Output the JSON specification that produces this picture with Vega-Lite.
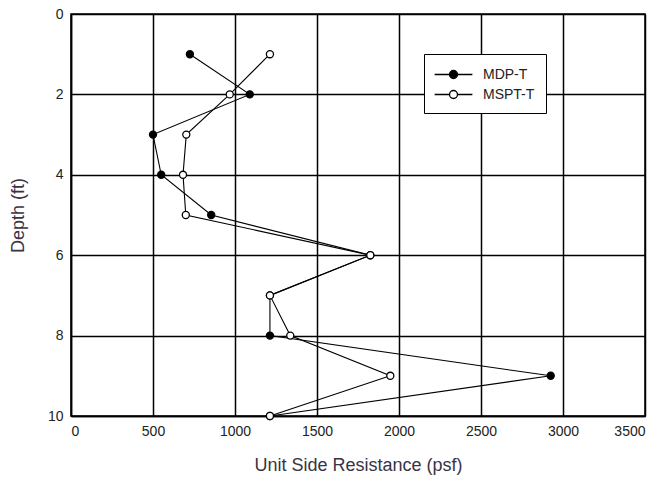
{
  "$schema": "https://vega.github.io/schema/vega-lite/v6.json",
  "width": 574,
  "height": 402,
  "autosize": "none",
  "padding": {"left": 71, "top": 14, "right": 16, "bottom": 66},
  "background": "white",
  "config": {
    "view": {"stroke": "black", "strokeWidth": 1.5},
    "font": "Liberation Sans",
    "axis": {
      "grid": true,
      "gridColor": "black",
      "gridWidth": 1.5,
      "gridOpacity": 1,
      "domainColor": "black",
      "domainWidth": 1.5,
      "ticks": false,
      "labelFont": "Liberation Sans",
      "labelFontSize": 14,
      "labelColor": "#222",
      "titleFont": "Liberation Sans",
      "titleFontSize": 18,
      "titleFontWeight": "normal",
      "titleColor": "#3a3345"
    }
  },
  "data": {
    "values": [
      {"series": "MDP-T", "depth": 1, "resistance": 725},
      {"series": "MDP-T", "depth": 2, "resistance": 1090},
      {"series": "MDP-T", "depth": 3, "resistance": 500},
      {"series": "MDP-T", "depth": 4, "resistance": 550},
      {"series": "MDP-T", "depth": 5, "resistance": 855},
      {"series": "MDP-T", "depth": 6, "resistance": 1825},
      {"series": "MDP-T", "depth": 7, "resistance": 1213},
      {"series": "MDP-T", "depth": 8, "resistance": 1213},
      {"series": "MDP-T", "depth": 9, "resistance": 2925},
      {"series": "MDP-T", "depth": 10, "resistance": 1213},
      {"series": "MSPT-T", "depth": 1, "resistance": 1213},
      {"series": "MSPT-T", "depth": 2, "resistance": 968},
      {"series": "MSPT-T", "depth": 3, "resistance": 703},
      {"series": "MSPT-T", "depth": 4, "resistance": 683},
      {"series": "MSPT-T", "depth": 5, "resistance": 700},
      {"series": "MSPT-T", "depth": 6, "resistance": 1825},
      {"series": "MSPT-T", "depth": 7, "resistance": 1213},
      {"series": "MSPT-T", "depth": 8, "resistance": 1337},
      {"series": "MSPT-T", "depth": 9, "resistance": 1947},
      {"series": "MSPT-T", "depth": 10, "resistance": 1213}
    ]
  },
  "encoding": {
    "x": {
      "field": "resistance",
      "type": "quantitative",
      "scale": {"domain": [0, 3500], "nice": false, "zero": false},
      "axis": {"values": [0, 500, 1000, 1500, 2000, 2500, 3000, 3500], "format": "d", "title": "Unit Side Resistance (psf)", "labelPadding": 8, "titlePadding": 18}
    },
    "y": {
      "field": "depth",
      "type": "quantitative",
      "scale": {"domain": [0, 10], "reverse": true, "nice": false, "zero": false},
      "axis": {"values": [0, 2, 4, 6, 8, 10], "format": "d", "title": "Depth (ft)", "labelPadding": 8, "titlePadding": 20}
    }
  },
  "layer": [
    {
      "mark": {"type": "line", "color": "black", "strokeWidth": 1.1},
      "encoding": {
        "detail": {"field": "series"},
        "order": {"field": "depth", "type": "quantitative"}
      }
    },
    {
      "mark": {"type": "point", "shape": "circle", "filled": true, "stroke": "black", "strokeWidth": 1.3, "size": 50, "opacity": 1},
      "encoding": {
        "fill": {
          "field": "series",
          "type": "nominal",
          "scale": {"domain": ["MDP-T", "MSPT-T"], "range": ["black", "white"]},
          "legend": {
            "title": null,
            "orient": "none",
            "legendX": 353,
            "legendY": 40,
            "direction": "vertical",
            "strokeColor": "black",
            "fillColor": "white",
            "padding": 11,
            "rowPadding": 3,
            "symbolType": "M-2.18,0H-0.46M0.46,0H2.18M0.46,0A0.46,0.46 0 1,1 -0.46,0A0.46,0.46 0 1,1 0.46,0Z",
            "symbolSize": 300,
            "symbolOffset": 9,
            "symbolStrokeColor": "black",
            "symbolStrokeWidth": 1.3,
            "labelFont": "Liberation Sans",
            "labelFontSize": 14,
            "labelColor": "#222",
            "labelOffset": 20
          }
        }
      }
    }
  ]
}
